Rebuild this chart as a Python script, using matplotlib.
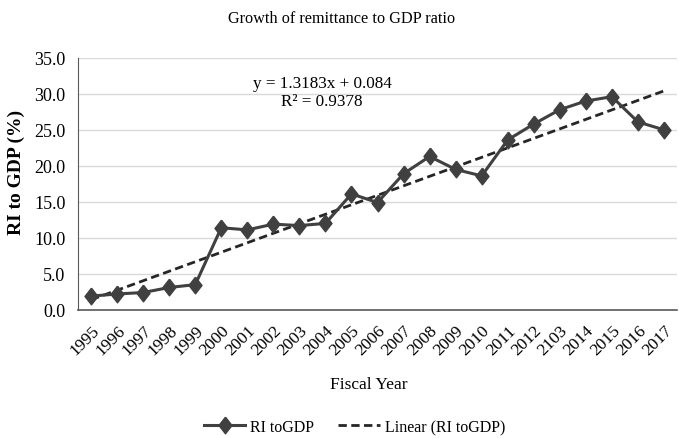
import numpy as np
import matplotlib
matplotlib.use("Agg")
import matplotlib.pyplot as plt

plt.rcParams['font.family'] = ['Liberation Serif', 'DejaVu Serif']

# data
years = ['1995', '1996', '1997', '1998', '1999', '2000', '2001', '2002', '2003',
         '2004', '2005', '2006', '2007', '2008', '2009', '2010', '2011', '2012',
         '2103', '2014', '2015', '2016', '2017']
ri_gdp = [1.9, 2.2, 2.4, 3.1, 3.5, 11.4, 11.1, 11.9, 11.7, 12.0, 16.1, 14.9,
          18.9, 21.3, 19.5, 18.6, 23.6, 25.8, 27.8, 29.0, 29.6, 26.1, 25.0]
slope = 1.3183
intercept = 0.084
r2 = 0.9378

x = np.arange(len(years))
trend = slope * (x + 1) + intercept

# slightly tall diamond like the Excel marker
diamond = [(0, 1), (0.78, 0), (0, -1), (-0.78, 0), (0, 1)]

fig = plt.figure(figsize=(6.79, 4.39), dpi=100)
ax = fig.add_axes([0.115, 0.292, 0.882, 0.574])

ax.plot(x, ri_gdp, color='#404040', lw=2.2, marker=diamond, ms=12,
        label='RI toGDP', zorder=3)
ax.plot(x, trend, color='#262626', lw=2, ls=(0, (3, 1.6)),
        label='Linear (RI toGDP)', zorder=2)

ax.set_xlim(-0.5, len(years) - 0.5)
ax.set_ylim(0, 35)
yt = np.arange(0, 35.1, 5)
ax.set_yticks(yt)
ax.set_yticklabels([f'{v:.1f}' for v in yt], fontsize=13)
ax.set_xticks(x)
ax.set_xticklabels(years, rotation=45, ha='right', rotation_mode='anchor',
                   fontsize=12.5)
ax.tick_params(axis='y', length=0, pad=9)
ax.tick_params(axis='x', length=0, pad=9)

ax.grid(axis='y', color='#d9d9d9', lw=1)
ax.set_axisbelow(True)
for s in ['top', 'right']:
    ax.spines[s].set_visible(False)
ax.spines['left'].set_color('#595959')
ax.spines['bottom'].set_color('#595959')
ax.spines['bottom'].set_linewidth(1.2)

ax.set_ylabel('RI to GDP (%)', fontsize=14, fontweight='bold')
ax.yaxis.set_label_coords(-0.088, 0.55)
ax.set_xlabel('Fiscal Year', fontsize=12.5)
ax.xaxis.set_label_coords(0.486, -0.262)
fig.text(0.503, 0.957, 'Growth of remittance to GDP ratio', ha='center',
         va='center', fontsize=11.7)

ax.text(8.87, 30.3, f'y = {slope}x + {intercept}\nR² = {r2}', ha='center',
        va='center', fontsize=12.3, linespacing=1.15)

fig.legend(loc='center', bbox_to_anchor=(0.522, 0.025), ncol=2, frameon=False,
           fontsize=11.5, handlelength=2.6, handletextpad=0.3,
           columnspacing=1.5)

fig.savefig('out.png', dpi=100)
